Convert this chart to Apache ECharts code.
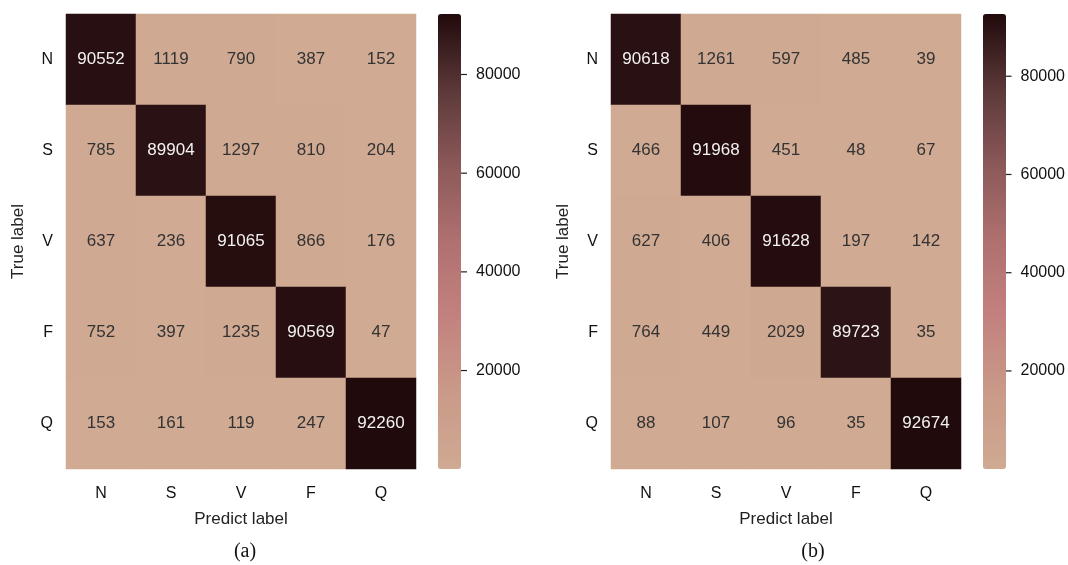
<!DOCTYPE html>
<html>
<head>
<meta charset="utf-8">
<script src="https://cdn.jsdelivr.net/npm/echarts@6/dist/echarts.min.js"></script>
<style>
  html, body { margin: 0; padding: 0; background: #fff; }
  #main { width: 1068px; height: 565px; }
</style>
</head>
<body>
<div id="main"></div>
<script>
// class labels, rows = true label, columns = predicted label
const classes = ['N', 'S', 'V', 'F', 'Q'];

const matrixA = [
  [90552, 1119, 790, 387, 152],
  [785, 89904, 1297, 810, 204],
  [637, 236, 91065, 866, 176],
  [752, 397, 1235, 90569, 47],
  [153, 161, 119, 247, 92260]
];

const matrixB = [
  [90618, 1261, 597, 485, 39],
  [466, 91968, 451, 48, 67],
  [627, 406, 91628, 197, 142],
  [764, 449, 2029, 89723, 35],
  [88, 107, 96, 35, 92674]
];

const colorbarTicks = [20000, 40000, 60000, 80000];
const captions = ['(a)', '(b)'];

const palette = ['#d0aa93', '#c99a88', '#c3827f', '#b07070', '#8c5959', '#5c3839', '#210a0c'];
const FONT = '"Liberation Sans", Arial, sans-serif';

function toCells(m) {
  const flat = m.flat();
  const mid = (Math.min(...flat) + Math.max(...flat)) / 2;
  const out = [];
  m.forEach((row, y) => {
    row.forEach((v, x) => {
      out.push({
        value: [x, y, v],
        label: { color: v > mid ? '#f2f2f2' : '#333333' }
      });
    });
  });
  return out;
}

function extent(m) {
  const flat = m.flat();
  return [Math.min(...flat), Math.max(...flat)];
}

const panels = [
  { m: matrixA, left: 66, width: 350, bar: 438, cap: 240 },
  { m: matrixB, left: 611, width: 350, bar: 983, cap: 808 }
];
const TOP = 14, HEIGHT = 455;

const chart = echarts.init(document.getElementById('main'));

const grid = [], xAxis = [], yAxis = [], series = [], visualMap = [], title = [];

panels.forEach((p, i) => {
  const [lo, hi] = extent(p.m);
  // heatmap grid
  grid.push({ left: p.left, top: TOP, width: p.width, height: HEIGHT });
  xAxis.push({
    type: 'category', gridIndex: 2 * i, data: classes,
    name: 'Predict label', nameLocation: 'middle', nameGap: 42,
    nameTextStyle: { fontFamily: FONT, fontSize: 17, color: '#222' },
    axisLine: { show: false }, axisTick: { show: false },
    axisLabel: { fontFamily: FONT, fontSize: 16, color: '#111', margin: 17 },
    splitLine: { show: false }
  });
  yAxis.push({
    type: 'category', gridIndex: 2 * i, data: classes, inverse: true,
    name: 'True label', nameLocation: 'middle', nameGap: 39, nameRotate: 90,
    nameTextStyle: { fontFamily: FONT, fontSize: 17, color: '#222' },
    axisLine: { show: false }, axisTick: { show: false },
    axisLabel: { fontFamily: FONT, fontSize: 16, color: '#111', margin: 13 },
    splitLine: { show: false }
  });
  const heatIdx = series.length;
  series.push({
    type: 'heatmap', xAxisIndex: 2 * i, yAxisIndex: 2 * i,
    data: toCells(p.m),
    label: { show: true, fontFamily: FONT, fontSize: 17,
      formatter: (d) => String(d.value[2]) },
    itemStyle: { borderWidth: 0 },
    emphasis: { disabled: true }
  });
  visualMap.push({
    type: 'continuous', seriesIndex: heatIdx, dimension: 2,
    min: lo, max: hi, calculable: false,
    left: p.bar, top: TOP, itemWidth: 23, itemHeight: HEIGHT, padding: 0,
    text: null, showLabel: false, hoverLink: false,
    inRange: { color: palette }
  });
  // colorbar tick axis
  grid.push({ left: p.bar, top: TOP, width: 23, height: HEIGHT });
  xAxis.push({ type: 'value', gridIndex: 2 * i + 1, min: 0, max: 1, show: false });
  yAxis.push({
    type: 'value', gridIndex: 2 * i + 1, position: 'right', min: lo, max: hi,
    axisLine: { show: false },
    axisTick: { show: false },
    axisLabel: { fontFamily: FONT, fontSize: 16, color: '#111', margin: 15,
      customValues: colorbarTicks, formatter: (v) => String(v) },
    splitLine: { show: false }
  });
  // tick marks on the right side of the colorbar
  series.push({
    type: 'custom', xAxisIndex: 2 * i + 1, yAxisIndex: 2 * i + 1,
    data: colorbarTicks.map((v) => [1, v]),
    clip: false, silent: true,
    renderItem: (params, api) => {
      const pt = api.coord([1, api.value(1)]);
      return {
        type: 'line',
        shape: { x1: pt[0], y1: pt[1], x2: pt[0] + 6, y2: pt[1] },
        style: { stroke: '#222', lineWidth: 1.2 }
      };
    }
  });
  title.push({
    text: captions[i], left: p.cap, top: 537, textAlign: 'center',
    textStyle: { fontFamily: '"Liberation Serif", "Times New Roman", serif', fontSize: 20, fontWeight: 'normal', color: '#111' }
  });
});

chart.setOption({
  animation: false,
  backgroundColor: '#fff',
  title, grid, xAxis, yAxis, visualMap, series
});
</script>
</body>
</html>
